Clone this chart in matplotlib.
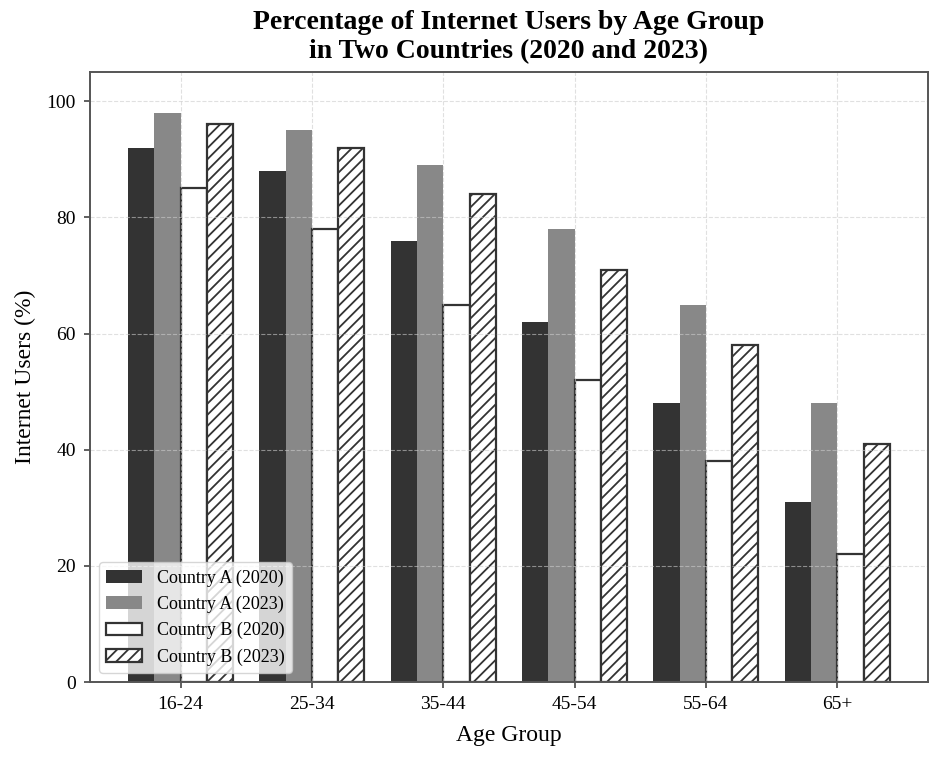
import matplotlib
matplotlib.use('Agg')
import matplotlib.pyplot as plt
import numpy as np

plt.rcParams['font.family'] = ['Liberation Serif', 'DejaVu Serif']
plt.rcParams['hatch.linewidth'] = 1.3

# 数据
age_groups = ['16-24', '25-34', '35-44', '45-54', '55-64', '65+']
a_2020 = [92, 88, 76, 62, 48, 31]
a_2023 = [98, 95, 89, 78, 65, 48]
b_2020 = [85, 78, 65, 52, 38, 22]
b_2023 = [96, 92, 84, 71, 58, 41]

x = np.arange(len(age_groups))
w = 0.2

fig, ax = plt.subplots(figsize=(9.42, 7.6), dpi=100)

ax.bar(x - 1.5 * w, a_2020, w, color='#333333', label='Country A (2020)')
ax.bar(x - 0.5 * w, a_2023, w, color='#888888', label='Country A (2023)')
ax.bar(x + 0.5 * w, b_2020, w, color='white', edgecolor='#333333', linewidth=1.6,
       label='Country B (2020)')
ax.bar(x + 1.5 * w, b_2023, w, color='white', edgecolor='#333333', linewidth=1.6,
       hatch='///', label='Country B (2023)')

ax.set_title('Percentage of Internet Users by Age Group\nin Two Countries (2020 and 2023)',
             fontsize=20, fontweight='bold', pad=10)
ax.set_xlabel('Age Group', fontsize=17, labelpad=9)
ax.set_ylabel('Internet Users (%)', fontsize=17, labelpad=8)
ax.set_xticks(x)
ax.set_xticklabels(age_groups, fontsize=14)
ax.tick_params(axis='y', labelsize=14)
ax.tick_params(length=4.5, width=1.2, pad=5.5, color='#444444')
ax.set_ylim(0, 105)
ax.set_xlim(-0.69, 5.69)

ax.grid(True, linestyle='--', color='#cccccc', alpha=0.6)
for s in ax.spines.values():
    s.set_color('#555555')
    s.set_linewidth(1.4)

ax.legend(loc='lower left', fontsize=13)

plt.subplots_adjust(left=0.0955, right=0.985, top=0.905, bottom=0.1026)
plt.savefig('out.png')
